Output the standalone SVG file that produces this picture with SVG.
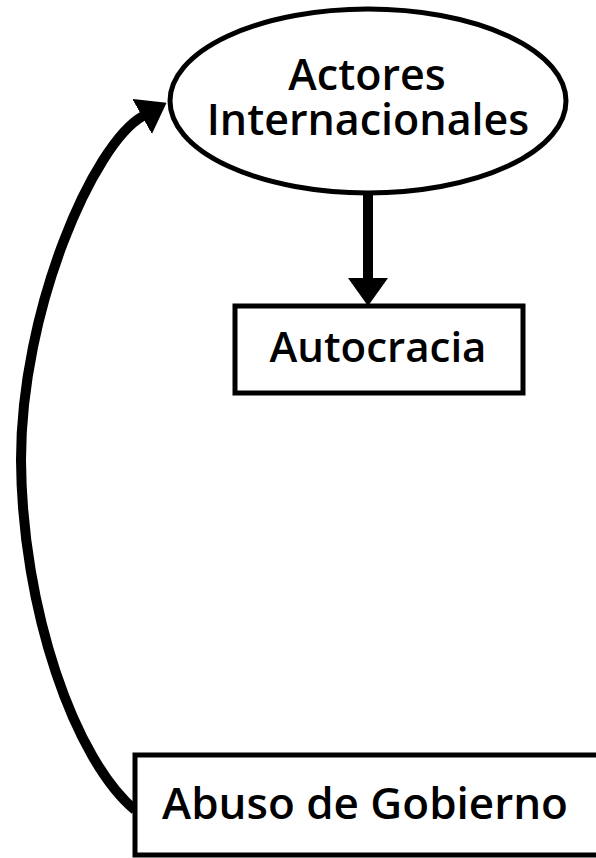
<svg xmlns="http://www.w3.org/2000/svg" width="596" height="858" viewBox="0 0 596 858">
<style>
.shape{fill:#fff;stroke:#000;stroke-width:5}
.lbl{font-family:"Open Sans","Liberation Sans",sans-serif;font-weight:600;font-size:42px;fill:#000;text-anchor:middle}
.ell{font-size:43px}
.big{font-size:44px}
.conn{fill:none;stroke:#000;stroke-width:10}
</style>
<defs>
<marker id="ah" markerUnits="userSpaceOnUse" viewBox="0 0 28 40" refX="1" refY="20" markerWidth="28" markerHeight="40" orient="auto">
<path d="M0,0 L28,20 L0,40 z" fill="#000"/>
</marker>
</defs>
<rect width="596" height="858" fill="#fff"/>
<g id="connectors">
<path class="conn" d="M368,195 L368,279" marker-end="url(#ah)"/>
<path class="conn" d="M135,810 C75,760 22,610 21,460 C21,310 93,144 143,116" marker-end="url(#ah)"/>
</g>
<g id="actores">
<ellipse class="shape" cx="368" cy="101" rx="198" ry="92"/>
<text class="lbl ell"><tspan x="367" y="90">Actores</tspan><tspan x="368" y="135">Internacionales</tspan></text>
</g>
<g id="autocracia">
<rect class="shape" x="235" y="306" width="288" height="87"/>
<text class="lbl" x="378" y="362">Autocracia</text>
</g>
<g id="abuso">
<rect class="shape" x="135" y="755" width="470" height="100"/>
<text class="lbl big" x="365" y="819">Abuso de Gobierno</text>
</g>
</svg>
